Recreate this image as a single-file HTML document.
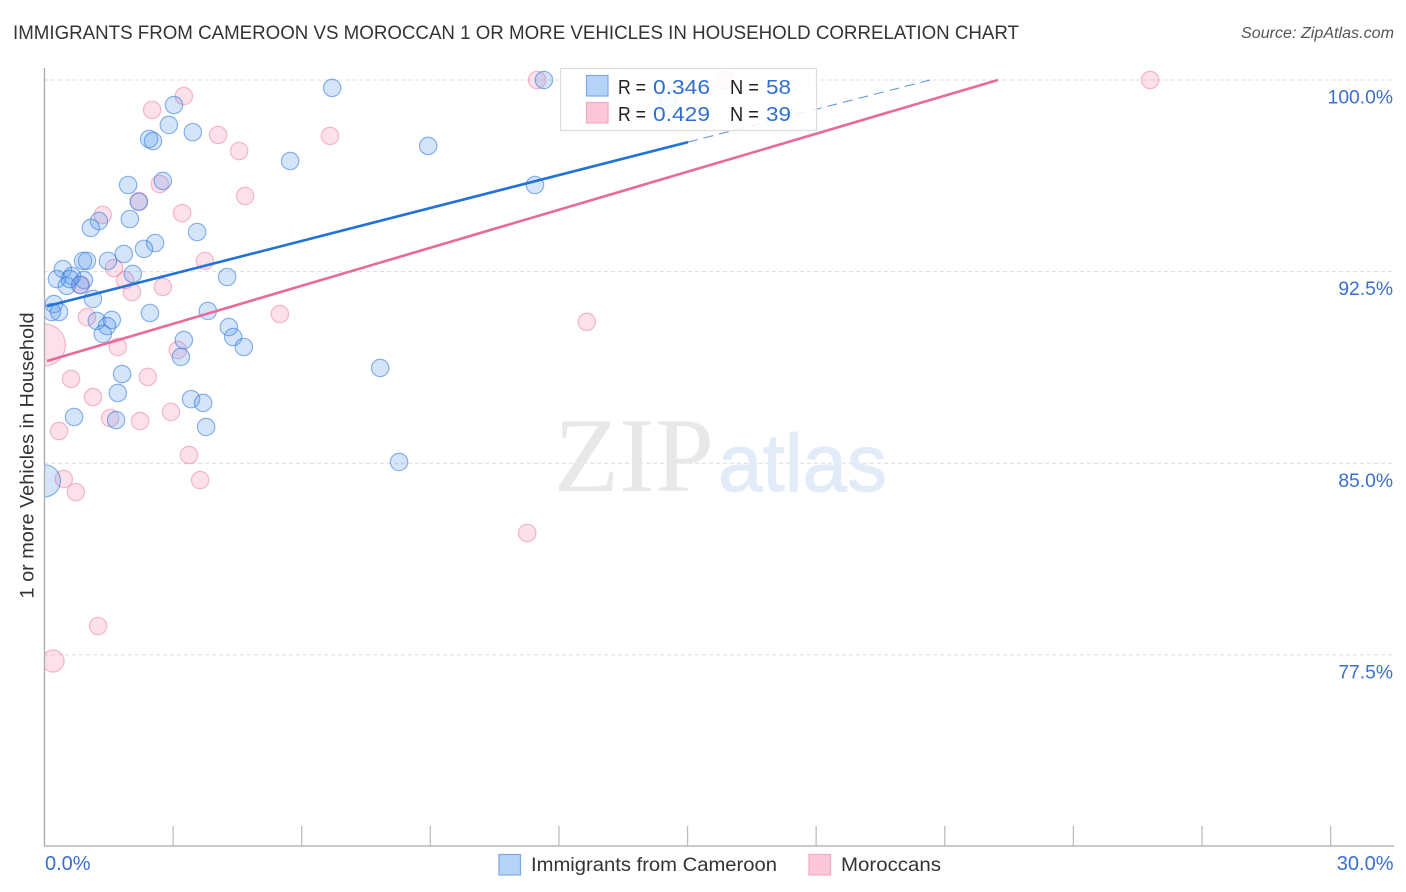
<!DOCTYPE html>
<html lang="en">
<head>
<meta charset="utf-8">
<title>Immigrants from Cameroon vs Moroccan 1 or more Vehicles in Household Correlation Chart</title>
<style>
html,body{margin:0;padding:0;background:#fff;}
svg{display:block;font-family:"Liberation Sans",sans-serif;}
</style>
</head>
<body>
<svg id="chart" xmlns="http://www.w3.org/2000/svg" width="1406" height="892" viewBox="0 0 1406 892">
  <defs>
    <clipPath id="plot-clip"><rect x="44" y="60" width="1360" height="786"/></clipPath>
  </defs>
  <rect x="0" y="0" width="1406" height="892" fill="#fff"/>

  <text x="13" y="39" font-size="19.5" fill="#333" textLength="1006" lengthAdjust="spacingAndGlyphs">IMMIGRANTS FROM CAMEROON VS MOROCCAN 1 OR MORE VEHICLES IN HOUSEHOLD CORRELATION CHART</text>
  <text x="1241" y="38" font-size="15.5" font-style="italic" fill="#555" textLength="153" lengthAdjust="spacingAndGlyphs">Source: ZipAtlas.com</text>

  <g id="grid"></g>

  <g>
    <text x="554" y="491" font-family="'Liberation Serif',serif" font-size="106" fill="#e8e8e8" textLength="160" lengthAdjust="spacingAndGlyphs">ZIP</text>
    <text x="718" y="491" font-family="'Liberation Sans',sans-serif" font-size="82" fill="#e2ecf9" stroke="#e2ecf9" stroke-width="1" textLength="169" lengthAdjust="spacingAndGlyphs">atlas</text>
  </g>

  <g id="points" clip-path="url(#plot-clip)"></g>
  <g id="trends"></g>

  <g id="axes">
    <line x1="44.5" y1="68" x2="44.5" y2="846" stroke="#aaa" stroke-width="1.3"/>
    <line x1="44" y1="846" x2="1394" y2="846" stroke="#aaa" stroke-width="1.3"/>
  </g>
  <g id="y-labels"></g>
  <g id="x-labels"></g>

  <text transform="translate(33.5,455.5) rotate(-90)" font-size="19.5" fill="#333" text-anchor="middle" textLength="286" lengthAdjust="spacingAndGlyphs">1 or more Vehicles in Household</text>

  <g>
    <rect x="560.5" y="68.5" width="256" height="62" fill="#fff" fill-opacity="0.86" stroke="#ddd" stroke-width="1.2"/>
    <rect x="586.5" y="75.5" width="21.5" height="20.5" fill="#b5d2f7" stroke="#80aae6" stroke-width="1.2"/>
    <rect x="586.5" y="102.5" width="21.5" height="20.5" fill="#fcc7d8" stroke="#f3a9c0" stroke-width="1.2"/>
    <g font-size="20.5">
      <text x="618" y="94" fill="#222" textLength="28" lengthAdjust="spacingAndGlyphs">R =</text>
      <text x="653" y="94" fill="#2f6fd0" textLength="57" lengthAdjust="spacingAndGlyphs">0.346</text>
      <text x="730" y="94" fill="#222" textLength="29" lengthAdjust="spacingAndGlyphs">N =</text>
      <text x="766" y="94" fill="#2f6fd0" textLength="25" lengthAdjust="spacingAndGlyphs">58</text>
      <text x="618" y="121" fill="#222" textLength="28" lengthAdjust="spacingAndGlyphs">R =</text>
      <text x="653" y="121" fill="#2f6fd0" textLength="57" lengthAdjust="spacingAndGlyphs">0.429</text>
      <text x="730" y="121" fill="#222" textLength="29" lengthAdjust="spacingAndGlyphs">N =</text>
      <text x="766" y="121" fill="#2f6fd0" textLength="25" lengthAdjust="spacingAndGlyphs">39</text>
    </g>
  </g>

  <g>
    <rect x="499" y="854.5" width="21.5" height="20.5" fill="#b5d2f7" stroke="#80aae6" stroke-width="1.2"/>
    <text x="531" y="871" font-size="19.5" fill="#333" textLength="246" lengthAdjust="spacingAndGlyphs">Immigrants from Cameroon</text>
    <rect x="809" y="854.5" width="21.5" height="20.5" fill="#fcc7d8" stroke="#f3a9c0" stroke-width="1.2"/>
    <text x="841" y="871" font-size="19.5" fill="#333" textLength="100" lengthAdjust="spacingAndGlyphs">Moroccans</text>
  </g>
</svg>
<script>
const blueX = [6.71,11.65,3.02,2.90,3.46,2.44,2.53,5.73,8.95,1.95,2.76,11.44,2.20,1.99,1.27,1.08,3.56,2.58,2.32,1.85,0.90,0.99,1.48,0.43,0.64,0.29,0.92,0.52,0.83,2.06,4.26,1.13,0.22,0.17,0.34,2.46,3.81,1.22,1.57,1.46,1.36,4.30,4.40,4.65,3.25,3.18,7.83,1.81,1.71,3.42,3.70,0.69,1.67,3.77,8.27,0,14.54,0.59];
const blueY = [99.69,100,99.02,98.24,97.96,97.69,97.61,96.83,97.42,95.89,96.05,95.89,95.23,94.56,94.48,94.21,94.05,93.62,93.39,93.19,92.92,92.92,92.92,92.60,92.33,92.21,92.17,91.94,91.98,92.41,92.29,91.43,91.23,90.92,90.92,90.88,90.96,90.57,90.61,90.37,90.06,90.33,89.94,89.55,89.82,89.16,88.73,88.49,87.75,87.51,87.36,86.81,86.69,86.42,85.05,84.31,99.26,92.21];
const bluePopulation = [1,1,1,1,1,1,1,1,1,1,1,1,1,1,1,1,1,1,1,1,1,1,1,1,1,1,1,1,1,1,1,1,1,1,1,1,1,1,1,1,1,1,1,1,1,1,1,1,1,1,1,1,1,1,1,3.4,1,1];
const pinkX = [2.51,3.25,4.05,4.54,6.66,2.69,4.68,2.20,3.21,1.36,3.74,1.62,1.88,2.04,2.76,0.85,0.99,5.49,12.65,0,1.71,3.11,0.62,2.41,1.13,2.95,1.53,2.23,0.34,3.37,0.45,3.63,0.73,11.26,1.25,0.20,11.49,15.87,25.79];
const pinkY = [98.83,99.37,97.85,97.22,97.81,95.93,95.46,95.26,94.79,94.72,92.92,92.64,92.17,91.70,91.90,91.98,90.72,90.84,90.53,89.63,89.55,89.43,88.30,88.38,87.59,87.01,86.77,86.65,86.26,85.32,84.38,84.34,83.87,82.27,78.63,77.26,100,100,100];
const pinkPopulation = [1,1,1,1,1,1,1,1,1,1,1,1,1,1,1,1,1,1,1,5.8,1,1,1,1,1,1,1,1,1,1,1,1,1,1,1,1.6,1,1,1];
const blueTrendX = [0.06,15.01,20.66];
const blueTrendY = [91.15,97.57,100];
const pinkTrendX = [0.06,22.24];
const pinkTrendY = [89.0,100];
const yTicks = [100,92.5,85,77.5];
const yTickLabels = ["100.0%","92.5%","85.0%","77.5%"];
const xTicks = [3,6,9,12,15,18,21,24,27,30];
const xEndValues = [0,30];
const xEndLabels = ["0.0%","30.0%"];

const SVG_NS = "http://www.w3.org/2000/svg";
function xScale(v){ return 44.5 + v * 42.87; }
function yScale(v){ return 80 + (100 - v) * 25.55; }
function make(tag, attrs, parent){
  const el = document.createElementNS(SVG_NS, tag);
  for (const k in attrs) el.setAttribute(k, attrs[k]);
  parent.appendChild(el);
  return el;
}
const gridG = document.getElementById("grid");
const axesG = document.getElementById("axes");
const pointsG = document.getElementById("points");
const trendsG = document.getElementById("trends");
const yLabelG = document.getElementById("y-labels");
const xLabelG = document.getElementById("x-labels");

yTicks.forEach(function(t, i){
  const line = make("line", {x1:44, x2:1394, y1:yScale(t), y2:yScale(t), stroke:"#dcdcdc", "stroke-width":1, "stroke-dasharray":"4 3"}, gridG);
  
  
  const label = make("text", {x:1393, y:yScale(t) + 23.5, "text-anchor":"end", "font-size":19.3, fill:"#3a6fd2"}, yLabelG);
  label.textContent = yTickLabels[i];
  
  
});

xTicks.forEach(function(t){
  const tick = make("line", {x1:xScale(t), x2:xScale(t), y1:826, y2:846, stroke:"#bdbdbd", "stroke-width":1.3}, axesG);
  
  
});

xEndValues.forEach(function(t, i){
  const label = make("text", {x: i === 0 ? xScale(t) + 0.5 : 1393.5, y:870, "text-anchor": i === 0 ? "start" : "end", "font-size":20, fill:"#3a6fd2"}, xLabelG);
  label.textContent = xEndLabels[i];
  
  
});

function radius(pop){ return 8.7 * Math.sqrt(pop); }

pinkX.forEach(function(v, i){
  const c = make("circle", {cx:xScale(v), cy:yScale(pinkY[i]), r:radius(pinkPopulation[i]), fill:"rgba(244,130,170,0.24)", stroke:"rgba(238,120,160,0.5)", "stroke-width":1.2}, pointsG);
  
  
});
blueX.forEach(function(v, i){
  const c = make("circle", {cx:xScale(v), cy:yScale(blueY[i]), r:radius(bluePopulation[i]), fill:"rgba(90,155,235,0.26)", stroke:"rgba(50,120,220,0.55)", "stroke-width":1.2}, pointsG);
  
  
});

const blueSolid = make("line", {x1:xScale(blueTrendX[0]), y1:yScale(blueTrendY[0]), x2:xScale(blueTrendX[1]), y2:yScale(blueTrendY[1]), stroke:"#2272d8", "stroke-width":2.6}, trendsG);


const blueDash = make("line", {x1:xScale(blueTrendX[1]), y1:yScale(blueTrendY[1]), x2:xScale(blueTrendX[2]), y2:yScale(blueTrendY[2]), stroke:"#5a8fd8", "stroke-width":1, "stroke-dasharray":"10 6"}, trendsG);


const pinkSolid = make("line", {x1:xScale(pinkTrendX[0]), y1:yScale(pinkTrendY[0]), x2:xScale(pinkTrendX[1]), y2:yScale(pinkTrendY[1]), stroke:"#e8699a", "stroke-width":2.6}, trendsG);


</script>
</body>
</html>
